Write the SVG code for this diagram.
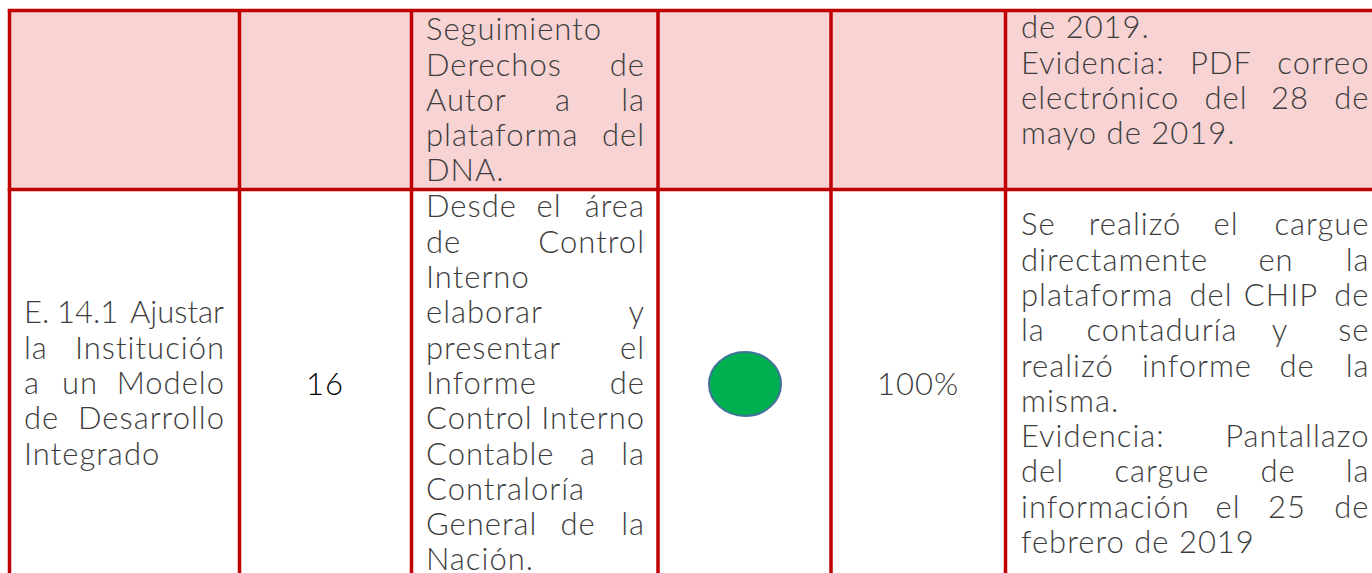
<svg xmlns="http://www.w3.org/2000/svg" width="1372" height="573" viewBox="0 0 1372 573">
<style>
.t{font-family:"Lato","Open Sans","Liberation Sans",sans-serif;font-weight:300;font-size:31px;letter-spacing:1px;fill:#3d3d3d}
.m{text-anchor:middle}
.e{text-anchor:end}
.n{letter-spacing:0}
.grid{stroke:#C00000;stroke-width:3.5;fill:none}
</style>
<rect x="0" y="0" width="1372" height="573" fill="#ffffff"/>
<rect id="row1bg" x="9.5" y="10.5" width="1363" height="179" fill="#F7D3D4"/>
<g id="connectors" class="grid">
<line x1="7.75" y1="10.5" x2="1372" y2="10.5"/>
<line x1="7.75" y1="189.5" x2="1372" y2="189.5"/>
<line x1="9.5" y1="10.5" x2="9.5" y2="573"/>
<line x1="239.5" y1="10.5" x2="239.5" y2="573"/>
<line x1="411.5" y1="10.5" x2="411.5" y2="573"/>
<line x1="658" y1="10.5" x2="658" y2="573"/>
<line x1="831" y1="10.5" x2="831" y2="573"/>
<line x1="1005.5" y1="10.5" x2="1005.5" y2="573"/>
</g>
<g id="r1c3" class="t">
<text x="426" y="40">Seguimiento</text>
<text x="426" y="75.5">Derechos</text><text class="e" x="645" y="75.5">de</text>
<text x="426" y="111">Autor</text><text class="m" x="563" y="111">a</text><text class="e" x="645" y="111">la</text>
<text x="426" y="146">plataforma</text><text class="e" x="645" y="146">del</text>
<text x="426" y="181">DNA.</text>
</g>
<g id="r1c6" class="t">
<text x="1021" y="38">de 2019.</text>
<text x="1021" y="73.5">Evidencia:</text><text class="m" x="1221" y="73.5">PDF</text><text class="e" x="1369.5" y="73.5">correo</text>
<text x="1021" y="109">electrónico</text><text class="m" x="1226" y="109">del</text><text class="m" x="1290" y="109">28</text><text class="e" x="1369.5" y="109">de</text>
<text x="1021" y="144">mayo de 2019.</text>
</g>
<g id="r2c1" class="t">
<text class="n" x="24" y="323">E.</text><text class="n" x="57" y="323">14.1</text><text class="e n" x="224" y="323">Ajustar</text>
<text x="24" y="358.5">la</text><text class="e" x="225" y="358.5">Institución</text>
<text x="24" y="394">a</text><text class="m" x="80" y="394">un</text><text class="e" x="225" y="394">Modelo</text>
<text x="24" y="429">de</text><text class="e" x="225" y="429">Desarrollo</text>
<text x="24" y="464.5">Integrado</text>
</g>
<g id="r2c2">
<text x="325" y="395" text-anchor="middle" style="font-family:'Lato','Open Sans','Liberation Sans',sans-serif;font-weight:300;font-size:31px;letter-spacing:1px;fill:#000">16</text>
</g>
<g id="r2c3" class="t">
<text x="426" y="217">Desde</text><text class="m" x="549" y="217">el</text><text class="e" x="645" y="217">área</text>
<text x="426" y="252.5">de</text><text class="e" x="645" y="252.5">Control</text>
<text x="426" y="288">Interno</text>
<text x="426" y="323">elaborar</text><text class="e" x="645" y="323">y</text>
<text x="426" y="358.5">presentar</text><text class="e" x="645" y="358.5">el</text>
<text x="426" y="394">Informe</text><text class="e" x="645" y="394">de</text>
<text x="426" y="429">Control</text><text class="e" x="645" y="429">Interno</text>
<text x="426" y="464.5">Contable</text><text class="m" x="588" y="464.5">a</text><text class="e" x="645" y="464.5">la</text>
<text x="426" y="499.5">Contraloría</text>
<text x="426" y="535">General</text><text class="m" x="578" y="535">de</text><text class="e" x="645" y="535">la</text>
<text x="426" y="570">Nación.</text>
</g>
<g id="r2c4">
<ellipse cx="745" cy="384" rx="36" ry="32" fill="#00B050" stroke="#41719C" stroke-width="2"/>
</g>
<g id="r2c5" class="t">
<text class="m" x="918" y="395">100%</text>
</g>
<g id="r2c6" class="t">
<text x="1021" y="235">Se</text><text class="m" x="1135" y="235">realizó</text><text class="m" x="1226" y="235">el</text><text class="e" x="1369.5" y="235">cargue</text>
<text x="1021" y="270.5">directamente</text><text class="m" x="1276" y="270.5">en</text><text class="e" x="1369.5" y="270.5">la</text>
<text x="1021" y="306">plataforma</text><text class="m" x="1211" y="306">del</text><text class="m" x="1281" y="306">CHIP</text><text class="e" x="1369.5" y="306">de</text>
<text x="1021" y="341">la</text><text class="m" x="1162" y="341">contaduría</text><text class="m" x="1280" y="341">y</text><text class="e" x="1369.5" y="341">se</text>
<text x="1021" y="376.5">realizó</text><text class="m" x="1197" y="376.5">informe</text><text class="m" x="1297" y="376.5">de</text><text class="e" x="1369.5" y="376.5">la</text>
<text x="1021" y="411.5">misma.</text>
<text x="1021" y="447">Evidencia:</text><text class="e" x="1369.5" y="447">Pantallazo</text>
<text x="1021" y="482">del</text><text class="m" x="1162" y="482">cargue</text><text class="m" x="1278" y="482">de</text><text class="e" x="1369.5" y="482">la</text>
<text x="1021" y="517.5">información</text><text class="m" x="1228" y="517.5">el</text><text class="m" x="1287" y="517.5">25</text><text class="e" x="1369.5" y="517.5">de</text>
<text x="1021" y="553">febrero de 2019</text>
</g>
</svg>
